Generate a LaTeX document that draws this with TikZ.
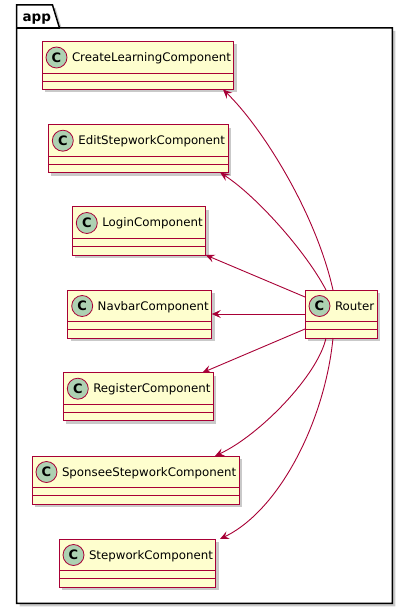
\documentclass[tikz,border=0pt]{standalone}
\usepackage{fontspec}
\setmainfont{DejaVu Sans}
\usepackage{tikz}
\usetikzlibrary{arrows.meta,
  calc,
  shadows,
  positioning}
\definecolor{umlRed}{HTML}{A80036}
\definecolor{umlFill}{HTML}{FEFECE}
\definecolor{umlCircle}{HTML}{ADD1B2}

\begin{document}
\begin{tikzpicture}[x=1pt, y=-1pt]
    % Define styles for nodes and arrows
    \tikzstyle{cls} = [rectangle, draw=umlRed, fill=umlFill, line width=1pt, anchor=north west, outer sep=0pt, inner xsep=3pt, inner ysep=0pt, text height=20pt, text depth=28pt, font=\fontsize{11.8}{14}\selectfont, drop shadow={shadow xshift=3pt, shadow yshift=-3pt, fill=black!60, opacity=0.35}]
    \tikzstyle{badge} = [circle, draw=umlRed, fill=umlCircle, line width=0.8pt, minimum size=21pt, inner sep=0pt, font=\fontsize{13}{13}\selectfont\bfseries]
    \tikzstyle{sep} = [draw=umlRed, line width=0.9pt]
    \tikzstyle{pkg} = [draw=black, line width=1.5pt, fill=white, line join=miter]
    % Arrow style for the dependencies
    \tikzset{depArrow/.style={draw=umlRed, line width=0.9pt,
        -{Stealth[length=9pt, width=8pt, inset=3.5pt]}
    }}
    \useasboundingbox (0,0) rectangle (408,609);
    % Package frame
    \draw[pkg, drop shadow={shadow xshift=3pt, shadow yshift=-3pt, fill=black!60, opacity=0.35}]
      (16.7,603.3) -- (16.7,5) -- (52.5,5) -- (59.5,28) -- (392.3,28) -- (392.3,603.3) -- cycle;
    \draw[pkg] (16.7,28) -- (59.5,28);
    \node[font=\fontsize{13.5}{14}\selectfont\bfseries, anchor=base west] (appLabel) at (19,22) {app};
    % Nodes
    \node (create) [cls] at (42,41.5) {\hspace*{27pt}CreateLearningComponent};
    \node (edit) [cls] at (48.3,124.7) {\hspace*{27pt}EditStepworkComponent};
    \node (login) [cls] at (72.3,207) {\hspace*{27pt}LoginComponent};
    \node (navbar) [cls] at (67.7,290) {\hspace*{27pt}NavbarComponent};
    \node (register) [cls] at (63.3,372.7) {\hspace*{27pt}RegisterComponent};
    \node (sponsee) [cls] at (32,456) {\hspace*{27pt}SponseeStepworkComponent};
    \node (stepwork) [cls] at (59,539) {\hspace*{27pt}StepworkComponent};
    \node (router) [cls] at (305,290) {\hspace*{27pt}Router};
    % Compartments and class badges
    \foreach \c in {create, edit, login, navbar, register, sponsee, stepwork, router} {
      \draw[sep] ([yshift=-31.5pt]\c.north west) -- ([yshift=-31.5pt]\c.north east);
      \draw[sep] ([yshift=-39.5pt]\c.north west) -- ([yshift=-39.5pt]\c.north east);
      \node (\c-badge) [badge] at ([xshift=14.5pt, yshift=-16pt]\c.north west) {C};
    }
    % Arrows (dependencies)
    \draw[depArrow] ($(router.north west)+(28,0)$) .. controls (315,210) and (260,125) .. ($(create.south west)+(181,0)$);
    \draw[depArrow] ($(router.north west)+(21,0)$) .. controls (305,250) and (255,195) .. ($(edit.south west)+(172,0)$);
    \draw[depArrow] ($(router.north west)+(0,7)$) -- (login.south east);
    \draw[depArrow] (router.west) -- (navbar.east);
    \draw[depArrow] ($(router.south west)+(0,-9)$) -- ($(register.north west)+(139,0)$);
    \draw[depArrow] ($(router.south west)+(21,0)$) .. controls (318,375) and (260,435) .. ($(sponsee.north west)+(183,0)$);
    \draw[depArrow] ($(router.south west)+(28,0)$) .. controls (325,420) and (280,510) .. ($(stepwork.north west)+(161,0)$);
\end{tikzpicture}
\end{document}
